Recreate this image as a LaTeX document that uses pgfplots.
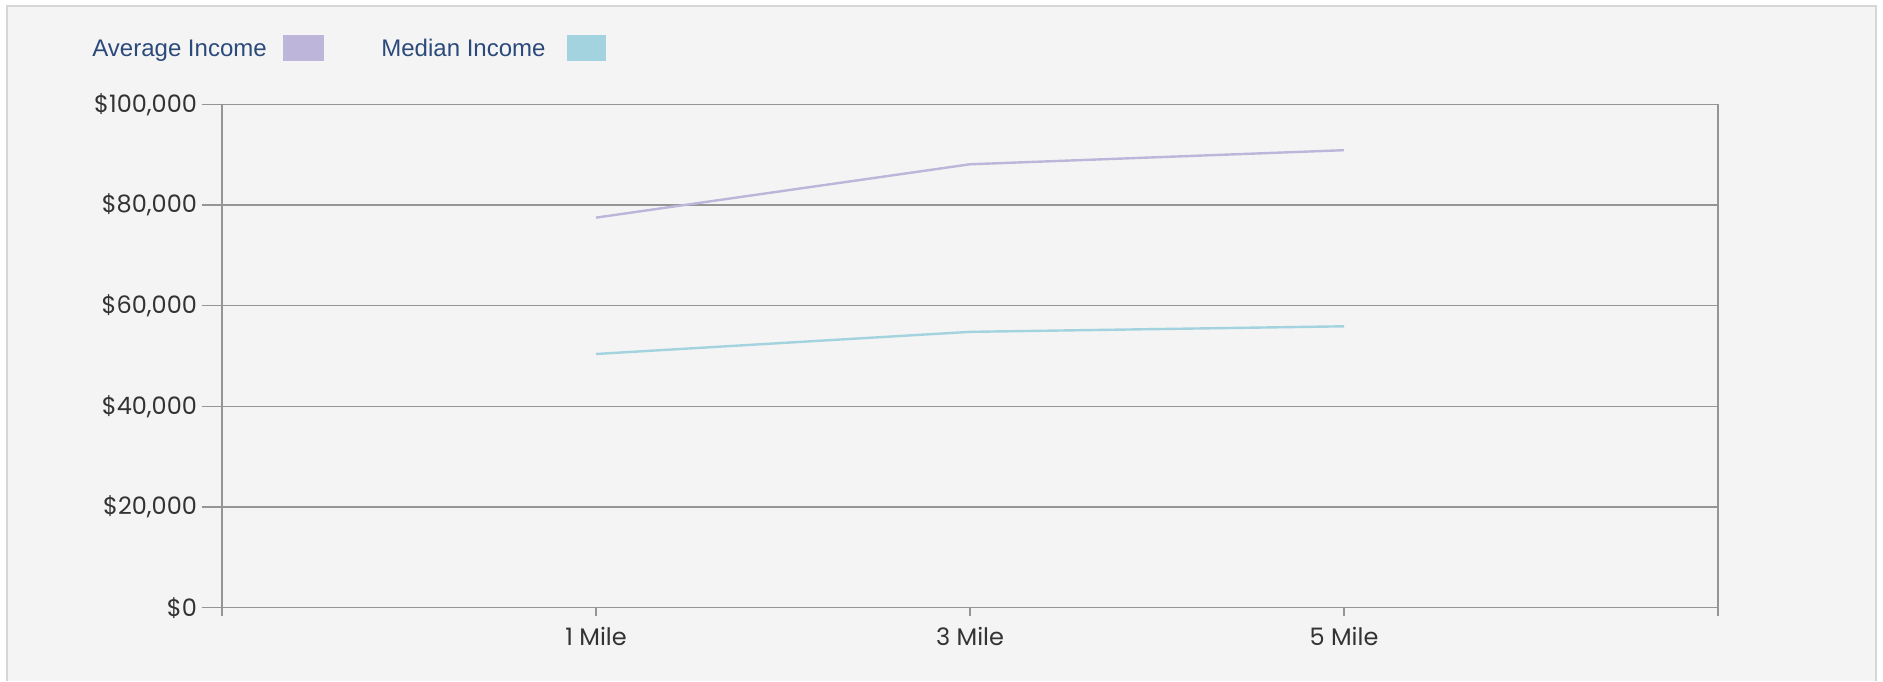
\documentclass[border=0pt]{standalone}
\usepackage{pgfplots}
\pgfplotsset{compat=1.18}
\usepackage{fontspec}
\setmainfont{Poppins}
\newfontfamily\legfont{Liberation Sans}
\definecolor{bg}{HTML}{F4F4F4}
\definecolor{frame}{HTML}{D6D6D6}
\definecolor{avgc}{HTML}{BDB5DA}
\definecolor{medc}{HTML}{A3D3DE}
\definecolor{legtext}{HTML}{2B4A7B}
\definecolor{gridc}{HTML}{959595}
\definecolor{ticktext}{HTML}{333333}
\begin{document}
\begin{tikzpicture}
\useasboundingbox (0pt,0pt) rectangle (941.5pt,340.5pt);
\fill[white] (0pt,0pt) rectangle (941.5pt,340.5pt);
\fill[bg] (3.5pt,0pt) rectangle (938pt,337.5pt);
\draw[frame, line width=1pt] (3.5pt,0pt) -- (3.5pt,337.5pt) -- (938pt,337.5pt) -- (938pt,0pt);
% legend
\node[anchor=base west, inner sep=0pt, text=legtext, font=\legfont\fontsize{12}{14}\selectfont] at (46pt,312.3pt) {Average Income};
\fill[avgc] (141.5pt,310pt) rectangle (162pt,323pt);
\node[anchor=base west, inner sep=0pt, text=legtext, font=\legfont\fontsize{12}{14}\selectfont] at (190.5pt,312.3pt) {Median Income};
\fill[medc] (283.5pt,310pt) rectangle (303pt,323pt);
\begin{axis}[
  at={(111pt,36.7pt)}, anchor=south west,
  scale only axis, width=748pt, height=251.6pt,
  xmin=0, xmax=4, ymin=0, ymax=100000,
  xtick={1,2,3}, xticklabels={1 Mile,3 Mile,5 Mile},
  extra x ticks={0,4}, extra x tick labels={},
  extra x tick style={grid=none},
  ytick={0,20000,40000,60000,80000,100000},
  yticklabels={{\$0},{\$20,000},{\$40,000},{\$60,000},{\$80,000},{\$100,000}},
  minor ytick={0,20000,40000,60000,80000,100000},
  xtick pos=bottom, ytick pos=left,
  tick align=outside,
  major tick length=4pt, minor tick length=10pt,
  ymajorgrids,
  grid style={gridc, line width=0.75pt},
  axis line style={gridc, line width=0.75pt},
  tick style={gridc, line width=0.75pt},
  scaled y ticks=false,
  ticklabel style={text=ticktext, font=\fontsize{12}{14}\selectfont},
  yticklabel style={xshift=-5pt},
  xticklabel style={yshift=-2.5pt},
  axis background/.style={fill=bg},
]
\addplot[avgc, line width=1.2pt] coordinates {(1,77500) (2,88100) (3,90900)};
\addplot[medc, line width=1.2pt] coordinates {(1,50400) (2,54800) (3,55900)};
\end{axis}
\end{tikzpicture}
\end{document}
